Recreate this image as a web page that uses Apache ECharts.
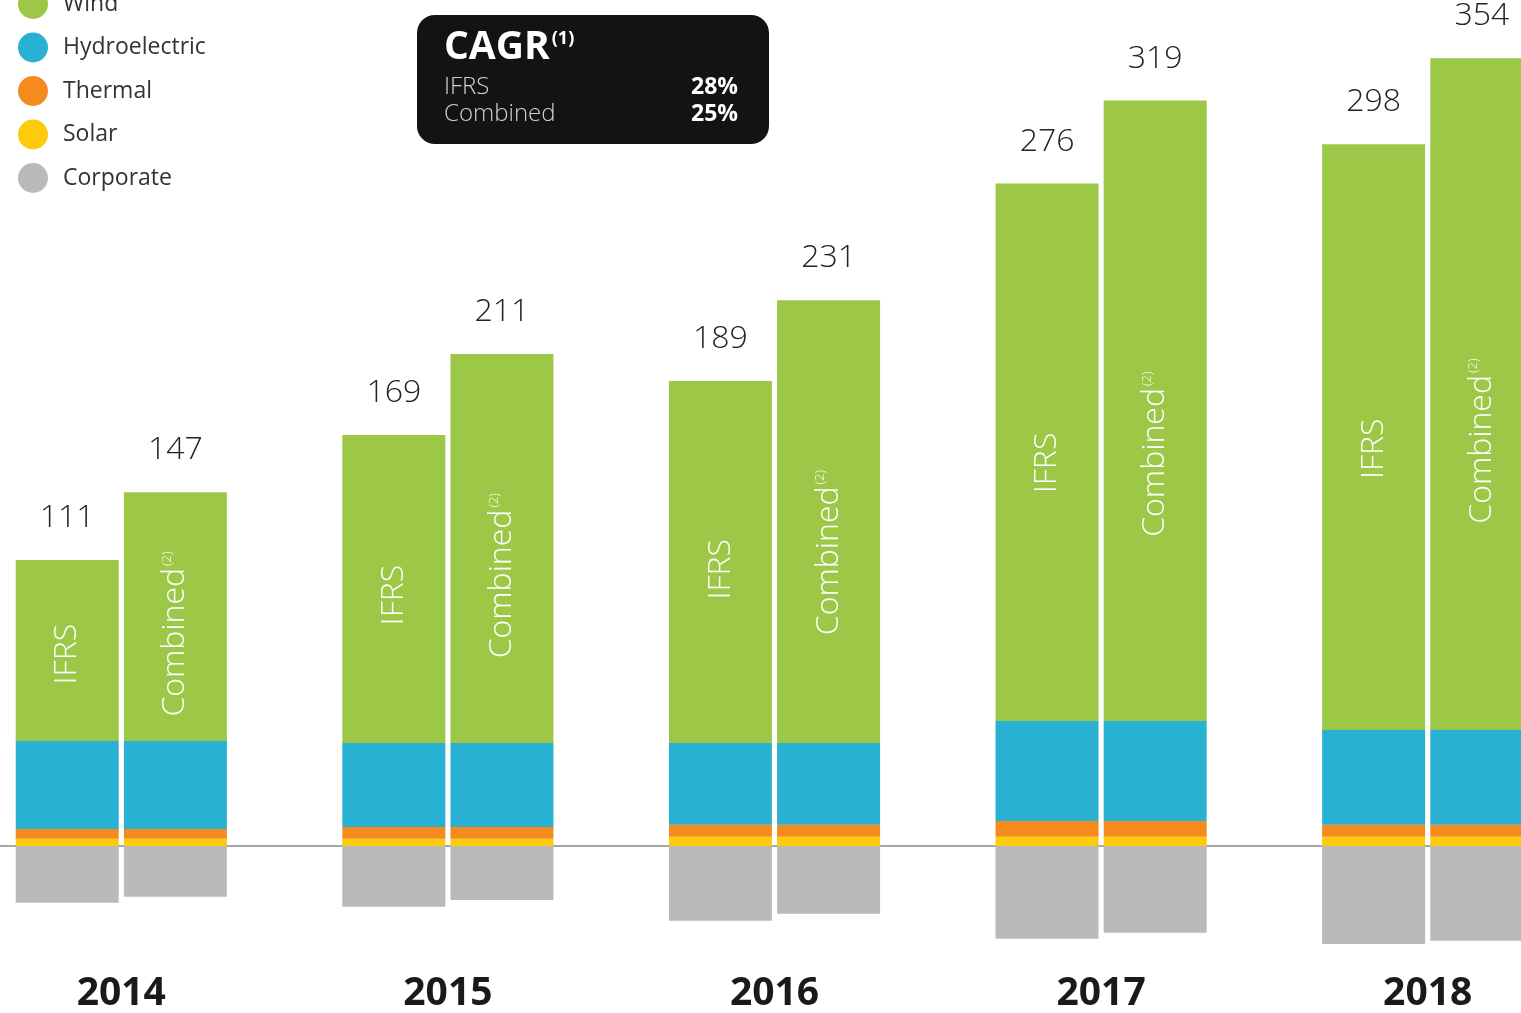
<!DOCTYPE html>
<html>
<head>
<meta charset="utf-8">
<script src="https://cdn.jsdelivr.net/npm/echarts@6/dist/echarts.min.js"></script>
<style>
  html, body { margin: 0; padding: 0; background: #fff; }
  #chart { width: 1521px; height: 1013px; }
</style>
</head>
<body>
<div id="chart"></div>
<script>
// years on the x axis
const years = ['2014', '2015', '2016', '2017', '2018'];

// IFRS stack
const ifrsSolar = [3.4, 3.4, 4.4, 4.4, 4.4];
const ifrsThermal = [4.8, 5.8, 5.8, 7.7, 5.8];
const ifrsHydro = [42.6, 40.7, 39.7, 48.4, 46.0];
const ifrsWind = [87.7, 149.2, 175.3, 260.5, 283.8];
const ifrsCorporate = [-27.6, -29.5, -36.3, -45.0, -47.5];
const ifrsTotals = [111, 169, 189, 276, 298];

// Combined stack
const combSolar = [3.4, 3.4, 4.4, 4.4, 4.4];
const combThermal = [4.8, 5.8, 5.8, 7.7, 5.8];
const combHydro = [42.6, 40.7, 39.7, 48.4, 46.0];
const combWind = [120.6, 188.4, 214.5, 300.7, 325.4];
const combCorporate = [-24.7, -26.2, -32.9, -42.1, -46.0];
const combTotals = [147, 211, 231, 319, 354];

// CAGR box
const cagrLabels = ['IFRS', 'Combined'];
const cagrValues = ['28%', '25%'];

const colors = {
    Wind: '#9dc847',
    Hydroelectric: '#29b1d4',
    Thermal: '#f58b1f',
    Solar: '#fdcb0b',
    Corporate: '#bababa'
};

const FONT = "'Open Sans', 'Noto Sans', sans-serif";

function stackSeries(stack, solar, thermal, hydro, wind, corporate, totals, windText, windPos) {
    let base = { type: 'bar', stack: stack, barWidth: 103, barGap: '5%', barCategoryGap: '35%' };
    return [
        Object.assign({}, base, { name: 'Solar', data: solar, itemStyle: { color: colors.Solar } }),
        Object.assign({}, base, { name: 'Thermal', data: thermal, itemStyle: { color: colors.Thermal } }),
        Object.assign({}, base, { name: 'Hydroelectric', data: hydro, itemStyle: { color: colors.Hydroelectric } }),
        Object.assign({}, base, {
            name: 'Wind', data: wind, itemStyle: { color: colors.Wind },
            label: {
                show: true,
                position: windPos,
                align: 'center',
                verticalAlign: 'middle',
                rotate: 90,
                formatter: windText,
                color: '#fff',
                fontFamily: FONT,
                fontWeight: 300,
                fontSize: 32,
                rich: {
                    a: { color: '#fff', fontFamily: FONT, fontWeight: 300, fontSize: 32 },
                    b: { color: '#fff', fontFamily: FONT, fontSize: 13, padding: [0, 0, 16, 2] }
                }
            }
        }),
        // zero height cap that carries the total above the stack
        Object.assign({}, base, {
            name: 'Total', data: totals.map(() => 0),
            itemStyle: { color: 'transparent' },
            label: {
                show: true,
                position: 'top',
                distance: 26,
                formatter: (p) => totals[p.dataIndex],
                color: '#222',
                fontFamily: FONT,
                fontWeight: 300,
                fontSize: 32
            }
        }),
        Object.assign({}, base, { name: 'Corporate', data: corporate, itemStyle: { color: colors.Corporate } })
    ];
}

let series = []
    .concat(stackSeries('ifrs', ifrsSolar, ifrsThermal, ifrsHydro, ifrsWind, ifrsCorporate, ifrsTotals,
        'IFRS', ['50%', '52%']))
    .concat(stackSeries('comb', combSolar, combThermal, combHydro, combWind, combCorporate, combTotals,
        '{a|Combined}{b|(2)}', ['50%', '57%']));

let chart = echarts.init(document.getElementById('chart'));
chart.setOption({
    backgroundColor: '#fff',
    animation: false,
    grid: { left: -42, right: -70, top: 41, bottom: 53.6, containLabel: false, outerBoundsMode: 'none' },
    legend: {
        data: ['Wind', 'Hydroelectric', 'Thermal', 'Solar', 'Corporate'],
        orient: 'vertical',
        left: 13,
        top: -16,
        icon: 'circle',
        itemWidth: 30,
        itemHeight: 30,
        itemGap: 13.5,
        selectedMode: false,
        textStyle: { fontSize: 23, color: '#333', fontFamily: FONT, padding: [0, 0, 0, 10] }
    },
    xAxis: {
        type: 'category',
        data: years,
        axisLine: { onZero: true, lineStyle: { color: '#8a8a8a', width: 1.5 } },
        axisTick: { show: false },
        axisLabel: {
            margin: 15,
            fontSize: 39,
            fontWeight: 'bold',
            color: '#1a1a1a',
            fontFamily: FONT
        }
    },
    yAxis: {
        type: 'value',
        min: -55,
        max: 390,
        show: false,
        splitLine: { show: false }
    },
    graphic: [{
        type: 'group',
        left: 417,
        top: 15,
        children: [
            { type: 'rect', shape: { x: 0, y: 0, width: 352, height: 129, r: 18 }, style: { fill: '#131313' } },
            {
                type: 'text', x: 27, y: 33,
                style: {
                    text: '{a|CAGR}{b|(1)}',
                    textVerticalAlign: 'middle',
                    rich: {
                        a: { fill: '#fff', fontFamily: FONT, fontWeight: 'bold', fontSize: 39 },
                        b: { fill: '#fff', fontFamily: FONT, fontWeight: 'bold', fontSize: 18, padding: [0, 0, 18, 2] }
                    }
                }
            },
            { type: 'text', x: 27, y: 72, style: { text: cagrLabels[0], fill: '#d0d0d0', font: '300 24px ' + FONT, textVerticalAlign: 'middle' } },
            { type: 'text', x: 27, y: 99, style: { text: cagrLabels[1], fill: '#d0d0d0', font: '300 24px ' + FONT, textVerticalAlign: 'middle' } },
            { type: 'text', x: 321, y: 72, style: { text: cagrValues[0], fill: '#fff', font: 'bold 23px ' + FONT, textAlign: 'right', textVerticalAlign: 'middle' } },
            { type: 'text', x: 321, y: 99, style: { text: cagrValues[1], fill: '#fff', font: 'bold 23px ' + FONT, textAlign: 'right', textVerticalAlign: 'middle' } }
        ]
    }],
    series: series
});
</script>
</body>
</html>
